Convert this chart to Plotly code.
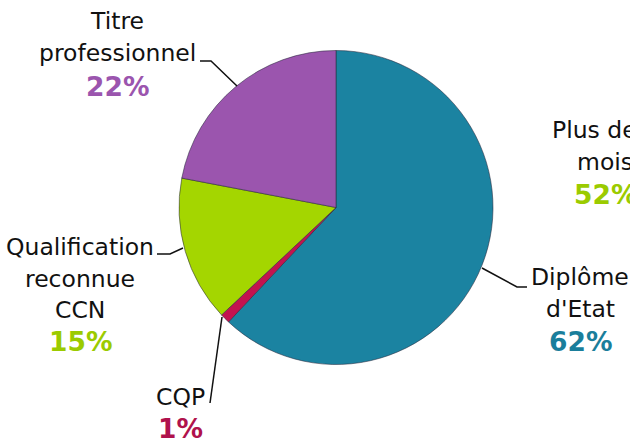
import plotly.graph_objects as go

W, H = 630, 441

categories = ["Diplôme d'Etat", "CQP", "Qualification reconnue CCN", "Titre professionnel"]
values = [62, 1, 15, 22]
label_lines = [["Diplôme", "d'Etat"], ["CQP"], ["Qualification", "reconnue", "CCN"], ["Titre", "professionnel"]]
slice_colors = ["#1B83A1", "#C3134F", "#A4D600", "#9B55AE"]
text_colors = ["#1A7E9B", "#B0124C", "#9BCB00", "#9B55AE"]

# other chart's clipped label at right edge
side_lines = ["Plus de 6", "mois"]
side_value = 52
side_color = "#9BCB00"

def px(x):
    return x / W

def py(y):
    return 1 - y / H

cx, cy, r = 336, 207.5, 157

fig = go.Figure(go.Pie(
    labels=categories,
    values=values,
    marker=dict(colors=slice_colors, line=dict(color="rgba(40,40,60,0.55)", width=1)),
    sort=False,
    direction="clockwise",
    rotation=0,
    textinfo="none",
    hoverinfo="label+percent",
    domain=dict(x=[px(cx - r), px(cx + r)], y=[py(cy + r), py(cy - r)]),
    showlegend=False,
))

# label layout: (center x, first line y, line spacing)
label_pos = [(580, 277, 32), (180, 397, 31), (80, 247, 31.5), (117, 21, 32.5)]
leaders = [
    [(482, 268), (517, 287), (527, 287)],
    [(222, 317), (210, 403)],
    [(183, 248), (170, 254), (157, 254)],
    [(237, 86), (211, 61), (200, 61)],
]

LBL = 23.5
PCT = 26.5

annotations = []
shapes = []
for lines, val, tc, (lx, ly, sp), pts in zip(label_lines, values, text_colors, label_pos, leaders):
    for i, t in enumerate(lines):
        annotations.append(dict(x=px(lx), y=py(ly + i * sp), xref="paper", yref="paper",
                                text=t, showarrow=False, xanchor="center", yanchor="middle",
                                font=dict(family="DejaVu Sans", size=LBL, color="#111111")))
    annotations.append(dict(x=px(lx), y=py(ly + len(lines) * sp), xref="paper", yref="paper",
                            text="<b>%d%%</b>" % val, showarrow=False, xanchor="center", yanchor="middle",
                            font=dict(family="DejaVu Sans", size=PCT, color=tc)))
    path = "M " + " L ".join("%f,%f" % (px(x), py(y)) for x, y in pts)
    shapes.append(dict(type="path", path=path, xref="paper", yref="paper",
                       line=dict(color="#111111", width=1.5)))

sx = 605
for i, t in enumerate(side_lines):
    annotations.append(dict(x=px(sx), y=py(130 + i * 32), xref="paper", yref="paper",
                            text=t, showarrow=False, xanchor="center", yanchor="middle",
                            font=dict(family="DejaVu Sans", size=LBL, color="#111111")))
annotations.append(dict(x=px(sx), y=py(130 + 2 * 32), xref="paper", yref="paper",
                        text="<b>%d%%</b>" % side_value, showarrow=False, xanchor="center", yanchor="middle",
                        font=dict(family="DejaVu Sans", size=PCT, color=side_color)))

fig.update_layout(
    width=W, height=H,
    margin=dict(l=0, r=0, t=0, b=0),
    paper_bgcolor="white", plot_bgcolor="white",
    annotations=annotations,
    shapes=shapes,
)

fig.write_html("out.html", config={"displayModeBar": False},
               post_script="document.body.style.margin='0';document.body.style.overflow='hidden';")
